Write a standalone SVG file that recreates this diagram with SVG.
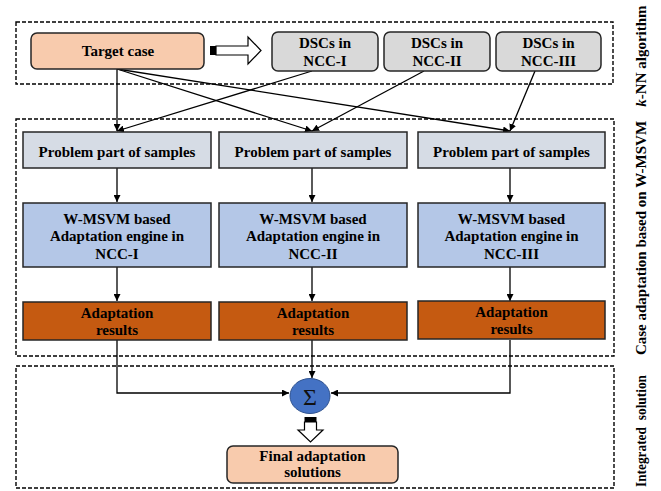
<svg xmlns="http://www.w3.org/2000/svg" width="661" height="491" viewBox="0 0 661 491">
<defs>
<style>
.t{font-family:"Liberation Serif","Times New Roman",serif;font-weight:bold;font-size:15px;fill:#000;text-anchor:middle}
.dash{fill:none;stroke:#000;stroke-width:1.4;stroke-dasharray:4 2}
.box{stroke:#262626;stroke-width:1.5}
.ln{fill:none;stroke:#000;stroke-width:1.3}
.arr{marker-end:url(#ah)}
</style>
<marker id="ah" markerUnits="userSpaceOnUse" markerWidth="8" markerHeight="7" refX="7" refY="3.5" orient="auto">
<path d="M0,0 L7,3.5 L0,7 z" fill="#000"/>
</marker>
</defs>
<rect width="661" height="491" fill="#fff"/>

<g id="regions">
<rect class="dash" x="16" y="22" width="597" height="62"/>
<rect class="dash" x="16" y="119" width="598" height="237"/>
<rect class="dash" x="16" y="366" width="598" height="122"/>
<text class="t" transform="translate(646,56) rotate(-90)"><tspan font-style="italic">k</tspan>-NN algorithm</text>
<text class="t" transform="translate(646,238) rotate(-90)">Case adaptation based on W-MSVM</text>
<text class="t" transform="translate(646,431) rotate(-90)" word-spacing="4" textLength="112" lengthAdjust="spacingAndGlyphs">Integrated solution</text>
</g>

<g id="connectors">
<line class="ln arr" x1="117" y1="69" x2="117" y2="131"/>
<line class="ln arr" x1="117" y1="69" x2="312" y2="131"/>
<line class="ln arr" x1="117" y1="69" x2="510" y2="131"/>
<line class="ln arr" x1="312" y1="71" x2="117" y2="131"/>
<line class="ln arr" x1="424" y1="71" x2="312" y2="131"/>
<line class="ln arr" x1="535" y1="71" x2="510" y2="131"/>
<line class="ln arr" x1="117" y1="168" x2="117" y2="202"/>
<line class="ln arr" x1="312" y1="168" x2="312" y2="202"/>
<line class="ln arr" x1="510" y1="168" x2="510" y2="202"/>
<line class="ln arr" x1="117" y1="267" x2="117" y2="301"/>
<line class="ln arr" x1="312" y1="267" x2="312" y2="301"/>
<line class="ln arr" x1="510" y1="267" x2="510" y2="301"/>
<polyline class="ln arr" points="117,340 117,393 289,393"/>
<line class="ln arr" x1="312" y1="340" x2="312" y2="378"/>
<polyline class="ln arr" points="510,340 510,393 331,393"/>
<rect x="210" y="46" width="6" height="9" fill="#000"/>
<polygon points="216,46 248,46 248,37 261,50.5 248,64 248,55 216,55" fill="#fff" stroke="#000" stroke-width="1.2"/>
<rect x="304.5" y="417" width="12" height="5" fill="#000"/>
<polygon points="304.5,422 316.5,422 316.5,430 323,430 310.5,442 298,430 304.5,430" fill="#fff" stroke="#000" stroke-width="1.2"/>
</g>

<g id="target-case">
<rect class="box" x="31" y="33" width="173" height="36" rx="6" fill="#f8cbad"/>
<text class="t" x="118" y="56">Target case</text>
</g>
<g id="dsc-1">
<rect class="box" x="272" y="32" width="106" height="39" rx="6" fill="#d9d9d9"/>
<text class="t" x="325" y="48">DSCs in</text>
<text class="t" x="325" y="66">NCC-I</text>
</g>
<g id="dsc-2">
<rect class="box" x="384" y="32" width="106" height="39" rx="6" fill="#d9d9d9"/>
<text class="t" x="437" y="48">DSCs in</text>
<text class="t" x="437" y="66">NCC-II</text>
</g>
<g id="dsc-3">
<rect class="box" x="496" y="32" width="105" height="39" rx="6" fill="#d9d9d9"/>
<text class="t" x="548.5" y="48">DSCs in</text>
<text class="t" x="548.5" y="66">NCC-III</text>
</g>

<g id="problem-1">
<rect class="box" x="23" y="132" width="188" height="36" fill="#d6dce5"/>
<text class="t" x="117" y="157">Problem part of samples</text>
</g>
<g id="problem-2">
<rect class="box" x="219" y="132" width="188" height="36" fill="#d6dce5"/>
<text class="t" x="313" y="157">Problem part of samples</text>
</g>
<g id="problem-3">
<rect class="box" x="418" y="132" width="187" height="36" fill="#d6dce5"/>
<text class="t" x="511.5" y="157">Problem part of samples</text>
</g>

<g id="engine-1">
<rect class="box" x="23" y="203" width="188" height="64" fill="#b4c7e7"/>
<text class="t" x="117" y="224">W-MSVM based</text>
<text class="t" x="117" y="241">Adaptation engine in</text>
<text class="t" x="117" y="259">NCC-I</text>
</g>
<g id="engine-2">
<rect class="box" x="219" y="203" width="188" height="64" fill="#b4c7e7"/>
<text class="t" x="313" y="224">W-MSVM based</text>
<text class="t" x="313" y="241">Adaptation engine in</text>
<text class="t" x="313" y="259">NCC-II</text>
</g>
<g id="engine-3">
<rect class="box" x="418" y="203" width="187" height="64" fill="#b4c7e7"/>
<text class="t" x="511.5" y="224">W-MSVM based</text>
<text class="t" x="511.5" y="241">Adaptation engine in</text>
<text class="t" x="511.5" y="259">NCC-III</text>
</g>

<g id="result-1">
<rect class="box" x="23" y="302" width="188" height="38" fill="#c55a11"/>
<text class="t" x="117" y="318">Adaptation</text>
<text class="t" x="117" y="335">results</text>
</g>
<g id="result-2">
<rect class="box" x="219" y="302" width="188" height="38" fill="#c55a11"/>
<text class="t" x="313" y="318">Adaptation</text>
<text class="t" x="313" y="335">results</text>
</g>
<g id="result-3">
<rect class="box" x="418" y="301" width="187" height="38" fill="#c55a11"/>
<text class="t" x="511.5" y="317">Adaptation</text>
<text class="t" x="511.5" y="334">results</text>
</g>

<g id="sum">
<ellipse cx="310" cy="396" rx="20" ry="17.5" fill="#4472c4" stroke="#2f528f" stroke-width="1"/>
<text x="310" y="405" font-family="Liberation Serif,serif" font-size="24" text-anchor="middle" fill="#111">Σ</text>
</g>

<g id="final">
<rect class="box" x="227" y="446" width="171" height="37" rx="6" fill="#f8cbad"/>
<text class="t" x="312.5" y="461">Final adaptation</text>
<text class="t" x="312.5" y="477">solutions</text>
</g>
</svg>
